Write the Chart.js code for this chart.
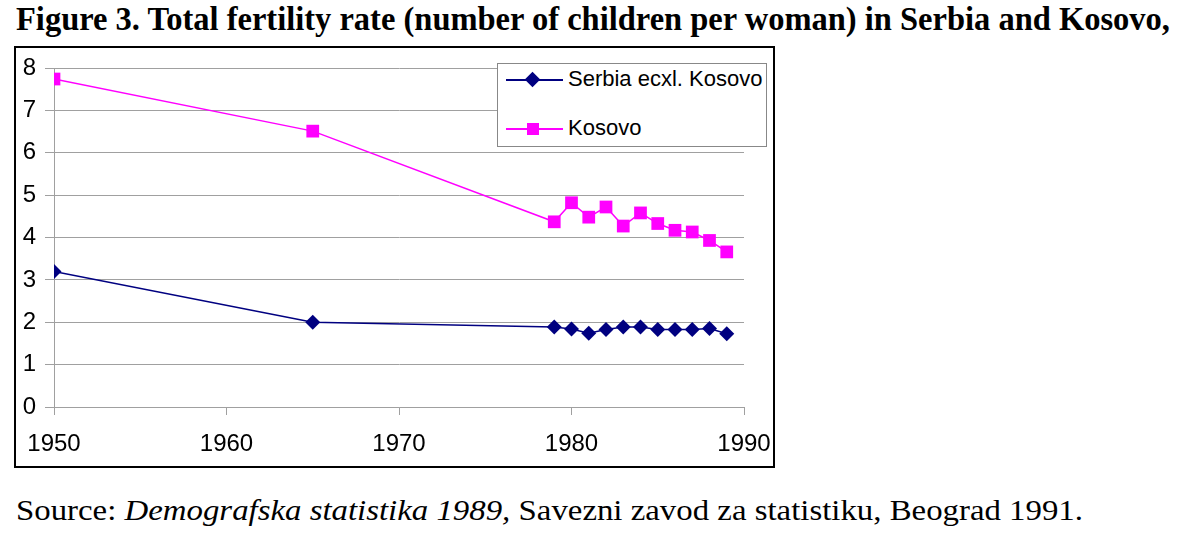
<!DOCTYPE html>
<html>
<head>
<meta charset="utf-8">
<script src="https://cdn.jsdelivr.net/npm/chart.js@4.4.1/dist/chart.umd.min.js"></script>
<style>
  body { margin: 0; background: #fff; width: 1200px; height: 541px; position: relative; overflow: hidden; }
  .txt { position: absolute; white-space: nowrap; transform-origin: 0 0; font-family: "Liberation Serif", "Times New Roman", serif; }
  #title { left: 16px; top: 0px; font-size: 34px; font-weight: bold; }
  #source { left: 16px; top: 494px; font-size: 29px; }
  #frame { position: absolute; left: 14px; top: 46px; width: 757px; height: 418px; border: 2px solid #000; }
  #legend { position: absolute; left: 497px; top: 63px; width: 268px; height: 82px; border: 1px solid #888; background: #fff;
            font-family: "Liberation Sans", Arial, sans-serif; font-size: 22px; color: #000; }
  .row { position: absolute; left: 0; height: 30px; width: 100%; }
  .ln { position: absolute; left: 8px; top: 14px; width: 57px; height: 2px; }
  .mk { position: absolute; }
  .lab { position: absolute; left: 70px; top: 1px; white-space: nowrap; }
</style>
</head>
<body>
<div id="title" class="txt">Figure 3. Total fertility rate (number of children per woman) in Serbia and Kosovo,</div>
<div id="frame"><canvas id="grafico" width="757" height="418"></canvas></div>
<div id="legend">
  <div class="row" style="top:1px">
    <div class="ln" style="background:#000080"></div>
    <div class="mk" style="left:29px;top:9px;width:11px;height:11px;background:#000080;transform:rotate(45deg)"></div>
    <div class="lab">Serbia ecxl. Kosovo</div>
  </div>
  <div class="row" style="top:50px">
    <div class="ln" style="background:#ff00ff"></div>
    <div class="mk" style="left:29px;top:9px;width:12px;height:12px;background:#ff00ff"></div>
    <div class="lab">Kosovo</div>
  </div>
</div>
<div id="source" class="txt">Source: <i>Demografska statistika 1989,</i> Savezni zavod za statistiku, Beograd 1991.</div>
<script>
var anni = [1950, 1965, 1979, 1980, 1981, 1982, 1983, 1984, 1985, 1986, 1987, 1988, 1989];
var serbia = [3.2, 2.0, 1.89, 1.84, 1.74, 1.83, 1.89, 1.89, 1.83, 1.83, 1.83, 1.85, 1.73];
var kosovo = [7.74, 6.51, 4.37, 4.82, 4.48, 4.72, 4.27, 4.58, 4.33, 4.17, 4.13, 3.93, 3.66];
var yTicks = [0, 1, 2, 3, 4, 5, 6, 7, 8];
var xTicks = [1950, 1960, 1970, 1980, 1990];

function punti(valori) {
    var res = [];
    for (let i = 0; i < anni.length; i++) {
        res.push({ x: anni[i], y: valori[i] });
    }
    return res;
}

// allarga il testo fino alla larghezza dell'originale
function adatta(id, larghezza) {
    var el = document.getElementById(id);
    var w = el.getBoundingClientRect().width;
    el.style.transform = "scaleX(" + (larghezza / w) + ")";
}
adatta("title", 1154);
adatta("source", 1067);

var grid = "#a0a0a0";

var chart = new Chart(document.getElementById("grafico").getContext("2d"), {
    type: "line",
    data: {
        datasets: [{
            label: "Serbia ecxl. Kosovo",
            data: punti(serbia),
            borderColor: "#000080",
            backgroundColor: "#000080",
            borderWidth: 1.5,
            pointStyle: "rectRot",
            pointRadius: 7.5,
            pointBorderWidth: 0
        }, {
            label: "Kosovo",
            data: punti(kosovo),
            borderColor: "#ff00ff",
            backgroundColor: "#ff00ff",
            borderWidth: 1.5,
            pointStyle: "rect",
            pointRadius: 9,
            pointBorderWidth: 0
        }]
    },
    options: {
        responsive: false,
        animation: false,
        layout: { padding: { top: 20, right: 29, left: 0, bottom: 0 } },
        plugins: { legend: { display: false }, tooltip: { enabled: false } },
        scales: {
            x: {
                type: "linear",
                min: 1950,
                max: 1990,
                afterFit: function (s) { s.height = 59; s.paddingLeft = 0; s.paddingRight = 0; },
                afterBuildTicks: function (s) { s.ticks = xTicks.map(v => ({ value: v })); },
                grid: { drawOnChartArea: false, drawTicks: true, tickLength: 8, color: grid },
                border: { display: true, color: grid },
                ticks: { color: "#000", font: { family: "Liberation Sans", size: 24 }, padding: 15, maxRotation: 0,
                         callback: v => String(v) }
            },
            y: {
                min: 0,
                max: 8,
                afterFit: function (s) { s.width = 38; s.paddingTop = 0; s.paddingBottom = 0; },
                afterBuildTicks: function (s) { s.ticks = yTicks.map(v => ({ value: v })); },
                grid: { color: grid, tickLength: 9 },
                border: { display: true, color: grid },
                ticks: { color: "#000", font: { family: "Liberation Sans", size: 24 }, padding: 9, callback: v => String(v) }
            }
        }
    }
});
</script>
</body>
</html>
